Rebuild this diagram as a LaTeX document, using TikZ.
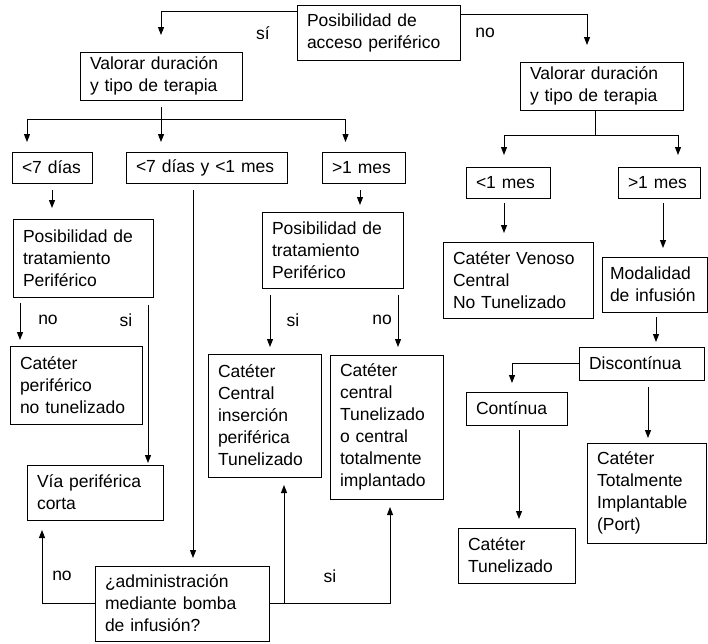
\documentclass[tikz,border=0pt]{standalone}
\usepackage{fontspec}
\setmainfont{Liberation Sans}
\usetikzlibrary{arrows.meta}
\hyphenpenalty=10000
\exhyphenpenalty=10000

\tikzset{
  caja/.style={draw, line width=1pt, align=left, inner xsep=10pt, inner ysep=3pt,
    outer sep=0pt, font=\fontsize{17.5}{22}\selectfont},
  flecha/.style={line width=1pt, -{Triangle[length=8pt,width=6pt]}},
  linea/.style={line width=1pt},
  rotulo/.style={font=\fontsize{17.5}{22}\selectfont, inner sep=0pt}
}

\begin{document}
\begin{tikzpicture}[x=1pt,y=-1pt]
\useasboundingbox (0,0) rectangle (708,643);
% cajas
\node[caja, text width=143pt, minimum height=55pt] (acceso) at (378.5,32.5) {Posibilidad de\\acceso periférico};
\node[caja, text width=142pt, minimum height=48pt] (valI) at (161,76) {Valorar duración\\y tipo de terapia};
\node[caja, text width=143pt, minimum height=48pt] (valD) at (601.5,86) {Valorar duración\\y tipo de terapia};
\node[caja, text width=60pt, minimum height=31pt] (d7) at (52,167.5) {<7 días};
\node[caja, text width=141pt, minimum height=31pt] (d7m) at (206.5,167.5) {<7 días y <1 mes};
\node[caja, text width=63pt, minimum height=31pt] (m1) at (363.5,167.5) {>1 mes};
\node[caja, text width=64pt, minimum height=31pt] (m1b) at (508,182.5) {<1 mes};
\node[caja, text width=62pt, minimum height=31pt] (m1c) at (659,182.5) {>1 mes};
\node[caja, text width=120pt, minimum height=78pt] (posA) at (83,258) {Posibilidad de\\tratamiento\\Periférico};
\node[caja, text width=121pt, minimum height=76pt] (posB) at (332.5,250) {Posibilidad de\\tratamiento\\Periférico};
\node[caja, text width=112pt, minimum height=78pt] (catPer) at (76,385) {Catéter\\periférico\\no~tunelizado};
\node[caja, text width=116pt, minimum height=55pt] (via) at (95,492.5) {Vía periférica\\corta};
\node[caja, text width=93pt, minimum height=123pt] (catCen) at (264.5,415.5) {Catéter\\Central\\inserción\\periférica\\Tunelizado};
\node[caja, text width=93pt, minimum height=144pt] (catTun) at (386.5,427) {Catéter\\central\\Tunelizado\\o~central\\totalmente\\implantado};
\node[caja, text width=154pt, minimum height=75pt] (adm) at (182,603.5) {¿administración\\mediante bomba\\de infusión?};
\node[caja, text width=130pt, minimum height=76pt] (cvc) at (518,280) {Catéter~Venoso\\Central\\No~Tunelizado};
\node[caja, inner xsep=8pt, text width=89pt, minimum height=55pt] (modal) at (654.5,284.5) {Modalidad\\de~infusión};
\node[caja, text width=105pt, minimum height=33pt] (disc) at (641.5,363.5) {Discontínua};
\node[caja, text width=81pt, minimum height=33pt] (cont) at (516.5,408.5) {Contínua};
\node[caja, text width=97pt, minimum height=55pt] (catT2) at (516.5,555.5) {Catéter\\Tunelizado};
\node[caja, text width=99pt, minimum height=100pt] (port) at (646.5,493) {Catéter\\Totalmente\\Implantable\\(Port)};
% rotulos
\node[rotulo] (siA) at (263,33) {sí};
\node[rotulo] (noA) at (485,33) {no};
\node[rotulo] (noB) at (48,320) {no};
\node[rotulo] (siB) at (126,320) {si};
\node[rotulo] (siC) at (293,320) {si};
\node[rotulo] (noC) at (382,320) {no};
\node[rotulo] (noD) at (62,576) {no};
\node[rotulo] (siD) at (330,576) {si};
% conectores superiores
\draw[flecha, shorten >=17pt] ([yshift=-6pt]acceso.north west) -| (valI.north);
\draw[flecha, shorten >=17pt] ([yshift=-9pt]acceso.north east) -| ([xshift=-14.5pt]valD.north);
\coordinate (ramI) at ([yshift=-19pt]valI.south);
\draw[linea] ([yshift=-7pt]valI.south) -- (ramI);
\draw[flecha, shorten >=10pt] (ramI) -| ([xshift=-25pt]d7.north);
\draw[flecha, shorten >=10pt] (ramI) -- (ramI |- d7m.north);
\draw[flecha, shorten >=10pt] (ramI) -| ([xshift=-18pt]m1.north);
\coordinate (ramD) at ([xshift=-6.5pt,yshift=-25pt]valD.south);
\draw[linea] ([xshift=-6.5pt]valD.south) -- (ramD);
\draw[flecha, shorten >=12pt] (ramD) -| ([xshift=-4pt]m1b.north);
\draw[flecha, shorten >=12pt] (ramD) -| ([xshift=19pt]m1c.north);
% rama izquierda
\draw[flecha, shorten <=7pt, shorten >=11pt] (d7.south) -- (d7.south |- posA.north);
\coordinate (bajaM) at ([xshift=-13.5pt]d7m.south);
\draw[flecha, shorten <=7pt, shorten >=8pt] (bajaM) -- (bajaM |- adm.north);
\coordinate (bajaP) at ([xshift=-3.5pt]m1.south);
\draw[flecha, shorten <=7pt, shorten >=7pt] (bajaP) -- (bajaP |- posB.north);
\coordinate (noPer) at ([xshift=7pt]posA.south west);
\draw[flecha, shorten <=6pt, shorten >=6pt] (noPer) -- (noPer |- catPer.north);
\coordinate (siPer) at ([xshift=-5pt]posA.south east);
\draw[flecha, shorten <=8pt, shorten >=2pt] (siPer) -- (siPer |- via.north);
\coordinate (siCen) at ([xshift=8pt]posB.south west);
\draw[flecha, shorten <=7pt, shorten >=7pt] (siCen) -- (siCen |- catCen.north);
\coordinate (noCen) at ([xshift=-5pt]posB.south east);
\draw[flecha, shorten <=7pt, shorten >=8pt] (noCen) -- (noCen |- catTun.north);
% bomba de infusion
\draw[flecha, shorten >=10pt] (adm.west) -| ([xshift=-53pt]via.south);
\draw[flecha, shorten >=8pt] (adm.east) -| ([xshift=3.5pt]catTun.south);
\coordinate (subeC) at ([xshift=19.5pt]catCen.south);
\draw[flecha, shorten >=8pt] (subeC |- adm.east) -- (subeC);
% rama derecha
\coordinate (bajaV) at ([xshift=-4pt]m1b.south);
\draw[flecha, shorten <=5pt, shorten >=9pt] (bajaV) -- (bajaV |- cvc.north);
\coordinate (bajaI) at ([xshift=4pt]m1c.south);
\draw[flecha, shorten <=5pt, shorten >=9pt] (bajaI) -- (bajaI |- modal.north);
\coordinate (bajaD) at ([xshift=1.5pt]modal.south);
\draw[flecha, shorten <=5pt, shorten >=5pt] (bajaD) -- (bajaD |- disc.north);
\draw[flecha, shorten >=9pt] (disc.west) -| ([xshift=-4.5pt]cont.north);
\coordinate (bajaT) at ([xshift=2.5pt]cont.south);
\draw[flecha, shorten <=5pt, shorten >=9pt] (bajaT) -- (bajaT |- catT2.north);
\coordinate (bajaPo) at ([xshift=6.5pt]disc.south);
\draw[flecha, shorten <=7pt, shorten >=5pt] (bajaPo) -- (bajaPo |- port.north);
\end{tikzpicture}
\end{document}
